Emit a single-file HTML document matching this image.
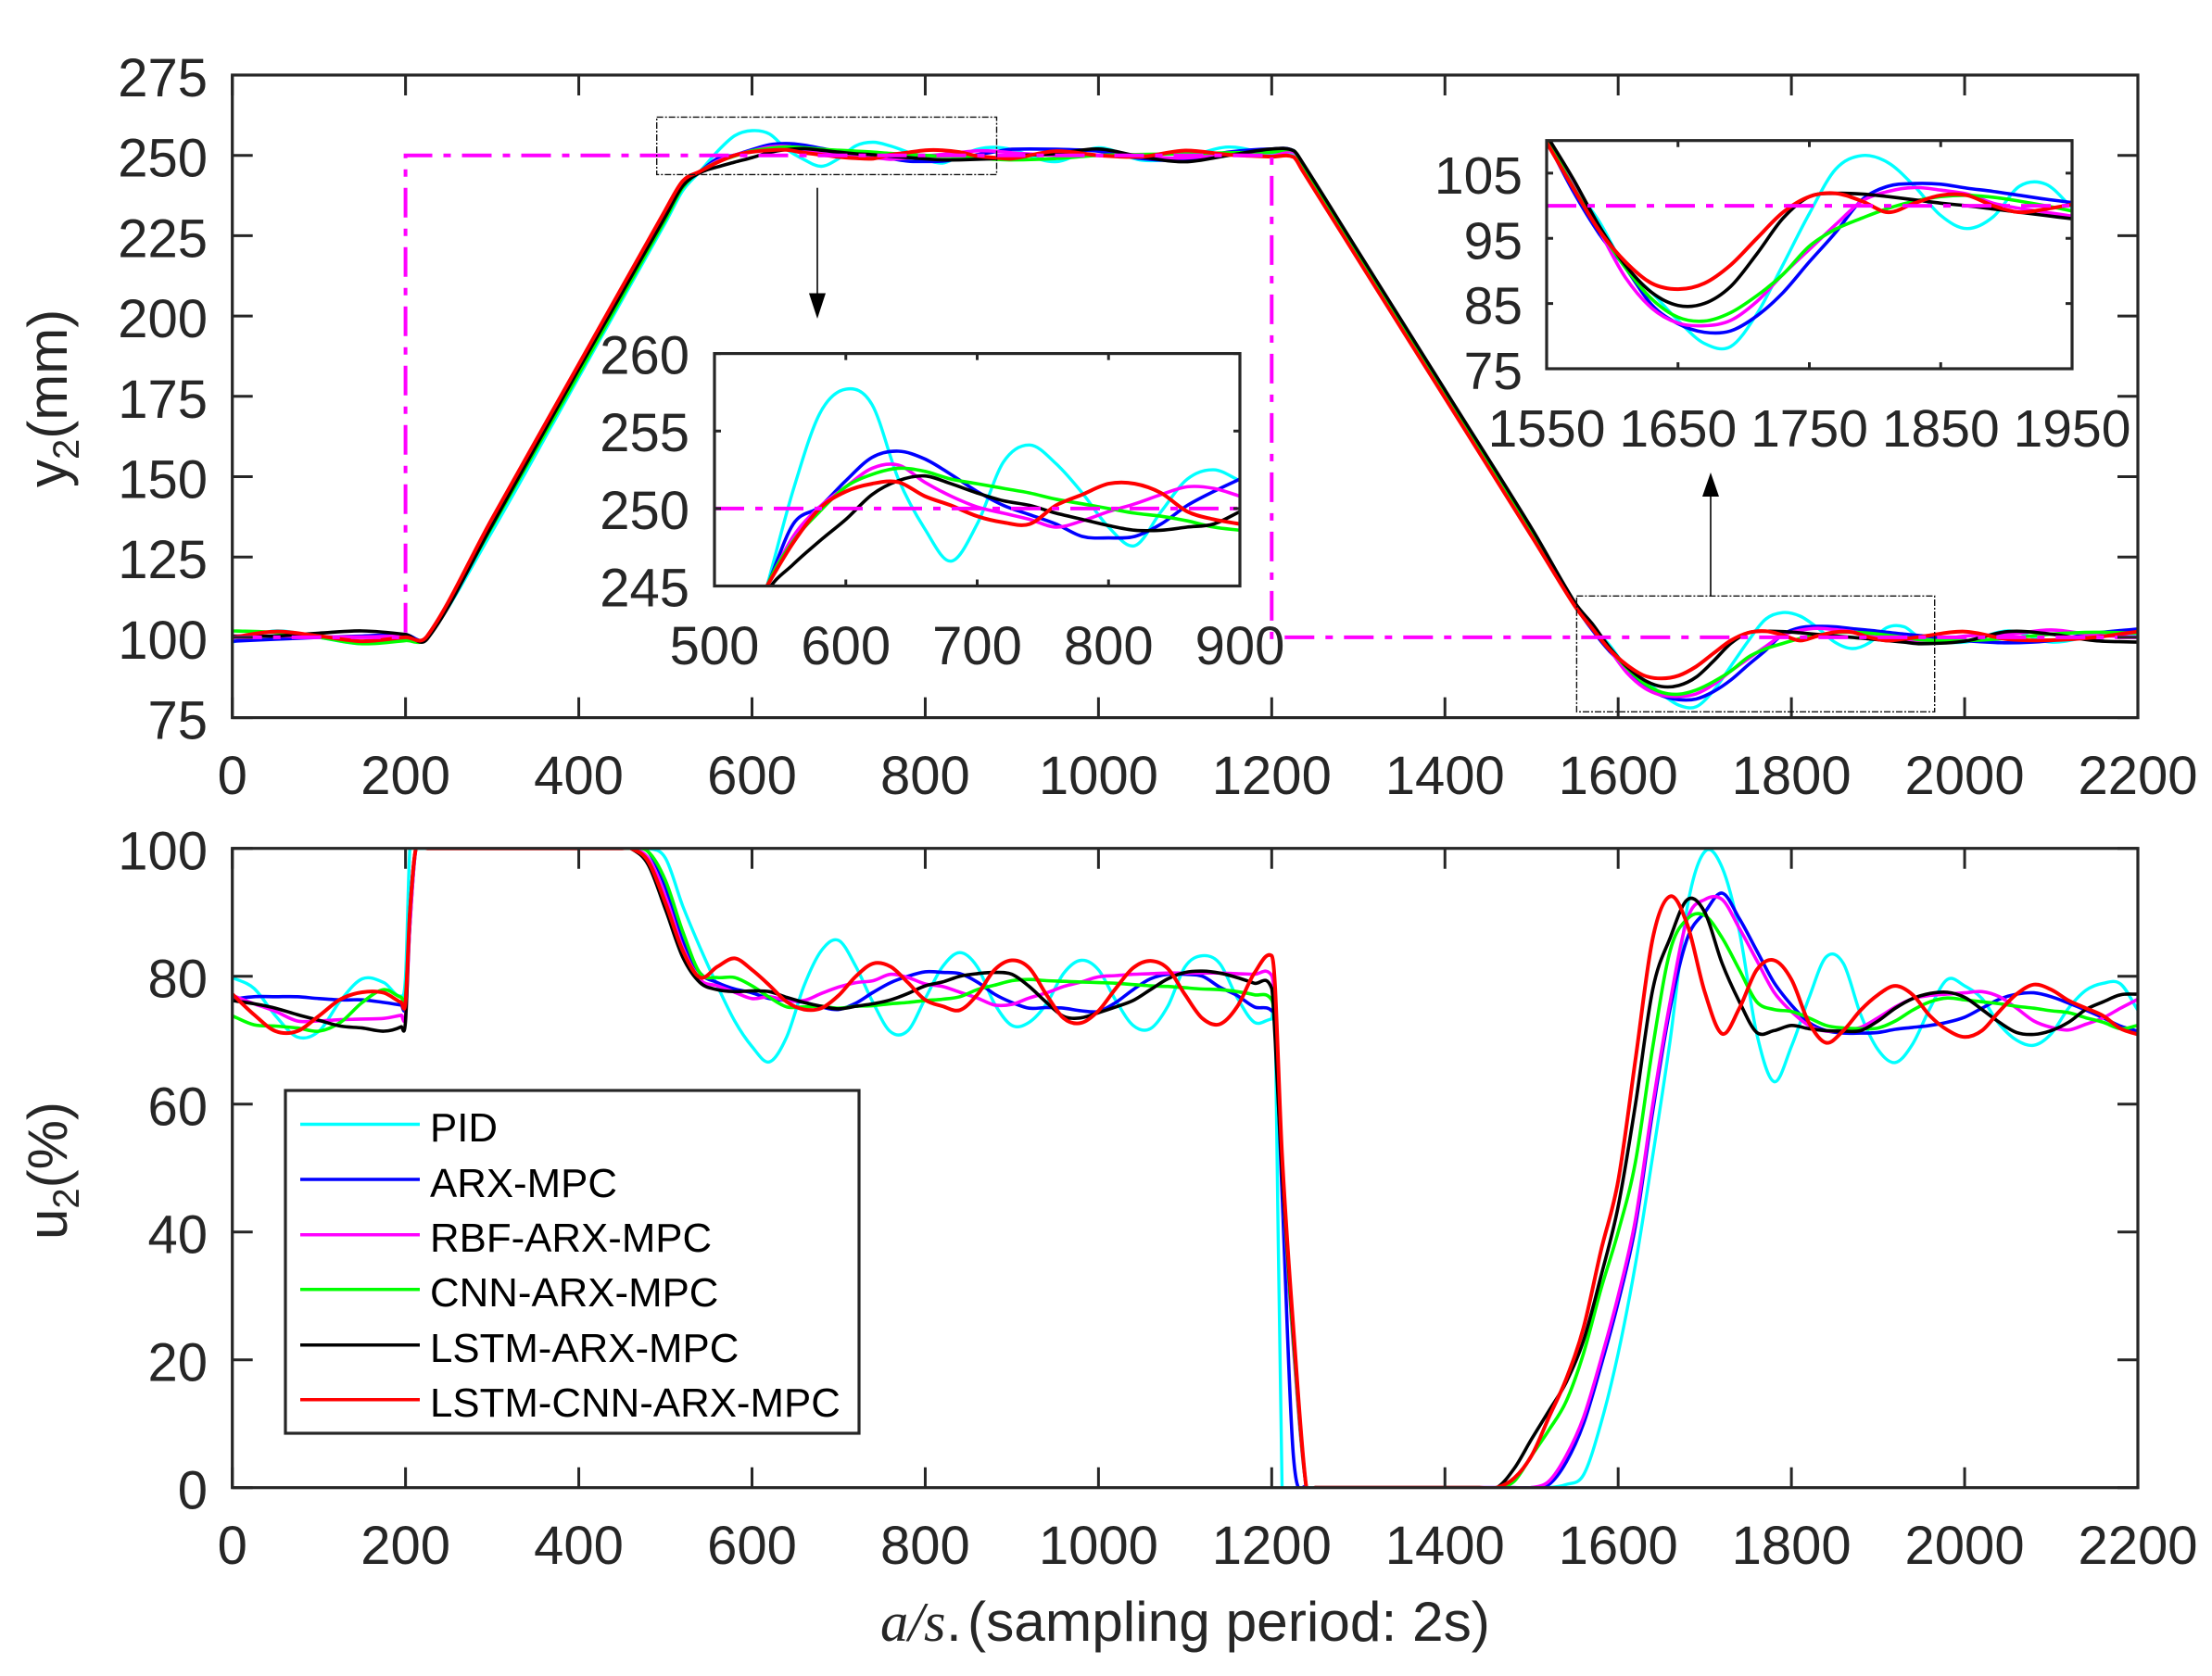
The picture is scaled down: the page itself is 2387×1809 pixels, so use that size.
<!DOCTYPE html>
<html lang="en">
<head>
<meta charset="utf-8">
<title>y2 and u2 control responses</title>
<style>
html,body{margin:0;padding:0;background:#fff;}
body{width:2387px;height:1809px;overflow:hidden;}
svg{display:block;font-family:"Liberation Sans",sans-serif;}
</style>
</head>
<body>
<svg id="chart" xmlns="http://www.w3.org/2000/svg" width="2387" height="1809" viewBox="0 0 2387 1809">
  <rect x="0" y="0" width="2387" height="1809" fill="#fff"/>
  <g id="layer-main"></g>
  <text transform="translate(72,526) rotate(-90)" font-size="60" fill="#262626">y<tspan font-size="40" dy="13">2</tspan><tspan dy="-13">(mm)</tspan></text>
  <text transform="translate(72,1338) rotate(-90)" font-size="60" fill="#262626">u<tspan font-size="40" dy="13">2</tspan><tspan dy="-13">(%)</tspan></text>
  <text y="1771" font-size="60.4" fill="#262626"><tspan x="950" font-family="'Liberation Serif',serif" font-style="italic">a/s</tspan><tspan x="1021">.</tspan><tspan x="1044">(sampling period: 2s)</tspan></text>
  <g>
    <rect x="308" y="1177" width="619" height="370" fill="#fff" stroke="#262626" stroke-width="3.2"/>
    <g><line x1="324" x2="453" y1="1213.5" y2="1213.5" stroke="#00ffff" stroke-width="3.5"/><text x="464" y="1232" font-size="43.8" fill="#000">PID</text></g>
    <g><line x1="324" x2="453" y1="1273" y2="1273" stroke="#0000ff" stroke-width="3.5"/><text x="464" y="1292" font-size="43.8" fill="#000">ARX-MPC</text></g>
    <g><line x1="324" x2="453" y1="1332.7" y2="1332.7" stroke="#ff00ff" stroke-width="3.5"/><text x="464" y="1351" font-size="43.8" fill="#000">RBF-ARX-MPC</text></g>
    <g><line x1="324" x2="453" y1="1391.7" y2="1391.7" stroke="#00ff00" stroke-width="3.5"/><text x="464" y="1410" font-size="43.8" fill="#000">CNN-ARX-MPC</text></g>
    <g><line x1="324" x2="453" y1="1451.7" y2="1451.7" stroke="#000000" stroke-width="3.5"/><text x="464" y="1470" font-size="43.8" fill="#000">LSTM-ARX-MPC</text></g>
    <g><line x1="324" x2="453" y1="1510.7" y2="1510.7" stroke="#ff0000" stroke-width="3.5"/><text x="464" y="1529" font-size="43.8" fill="#000">LSTM-CNN-ARX-MPC</text></g>
  </g>
</svg>
<script>
// ---------- data ----------
const y2Time = [0,50,100,150,200,225,300,400,500,520,
  540,560,580,600,620,640,660,680,700,720,740,760,780,800,820,840,860,880,900,
  950,1000,1050,1100,1150,1200,1225,1235,1300,1400,1500,1550,
  1570,1590,1610,1630,1650,1670,1690,1710,1730,1750,1770,1790,1810,1830,1850,1870,1890,1910,1930,1950,
  2000,2050,2100,2150,2200];
const y2Pid = [98.5,102,100,98,100,100,133,181,229,239,
  245,251.2,256.1,257.7,256.7,251.9,248.7,246.6,249,253,254.1,252.9,251,248.8,247.6,249.8,251.9,252.5,251.8,
  248,252.4,248.5,249.5,252.6,250.3,250.5,246.5,217.5,174.5,131.5,110.5,
  103.3,97.6,90.5,86.7,82.4,78.9,78.4,83.4,91,98.8,105.6,107.7,106.6,103,98.5,96.5,98.3,103,103.3,99.7,
  98.5,102,98.5,100.4,100.7];
const y2Arx = [98.8,99.4,100,100.4,100.9,100,135,183,231.5,241.5,
  245,249,250.1,251.8,253.3,253.7,253.2,252.2,251.1,250.2,249.6,249,248.2,248.1,248.2,249,250.2,251.1,251.9,
  251.9,251.3,249,248.5,251,252,251.5,247.2,218.7,175.6,132.5,110,
  102.3,95.7,90.5,84.8,81.9,80.6,80.8,83.1,86.7,91.4,95.9,100.9,103,103.4,103.3,102.7,102.2,101.6,101,100.5,
  99,98.3,99,101.3,102.6];
const y2Rbf = [100,100.4,100.1,100.1,100.4,100,137,185,232,241.5,
  245,248.2,250.1,251.4,252.6,252.8,251.7,250.8,250.1,249.7,249.3,248.8,249.2,249.8,250.3,250.9,251.4,251.3,250.8,
  250,250,249.5,249.2,250.3,249.8,251,246.8,219,176,133,110,
  103.3,96.2,89,84.3,82,81.6,82.4,85.3,89.5,93.3,97.1,100.7,102.2,102.8,102.4,101.8,100.4,99.6,99,98.4,
  100.4,100.9,102.3,100.7,100];
const y2Cnn = [102,101.5,100,98,99,100,134.5,182,230,240,
  245,247.9,249.8,251.4,252.2,252.6,252.4,251.9,251.6,251.3,251,250.6,250.3,250,249.7,249.5,249.2,248.8,248.6,
  249,250,250.3,250.5,250.8,251,251.5,247.2,219,176,133,110.4,
  103,96.4,90.5,85.7,82.9,82.3,83.6,86.2,89.5,93.8,96.4,98.1,99.6,100.7,101.4,101.6,101.3,100.7,100,99.2,
  99,99.7,101,101.6,101.3];
const y2Lstm = [100.4,100.4,101.3,102,100.9,99.5,135,183.5,231,240.5,
  244.6,246.4,247.9,249.3,250.9,251.8,252.1,251.6,251,250.5,250.2,249.7,249.3,248.9,248.6,248.6,248.8,249,249.8,
  250.5,252,249.5,248,250,252,251.5,248,220,177,134,110.8,
  104.2,96.9,90.9,86.7,84.7,85,87.6,92.6,98.1,101.4,101.9,101.8,101.4,100.9,100.4,100,99.5,99,98.5,98,
  98.8,101.8,101,99,98.5];
const y2LstmCnn = [100,101.8,100.4,98.8,100,100.4,137,185,233,242,
  245,247.8,250,251.1,251.6,251.7,250.8,250.2,249.5,249.1,249,250.2,250.9,251.6,251.6,251,249.8,249.3,249,
  251.3,250,249.6,251.5,250.2,249.6,249.5,245.5,217.5,174.5,131.5,109.7,
  102.8,96.2,91.4,88.1,87.2,88.1,90.9,95,99,101.4,101.9,100.7,99,100.4,101.6,101.6,100,99,99.5,100.2,
  101.8,99.4,99.1,100,101.8];

const setpointTime = [0,200,200,1200,1200,2200];
const setpointValues = [100,100,250,250,100,100];

const uTime = [0,25,50,75,100,125,150,175,195,200,205,212,225,450,
  460,480,500,520,540,560,580,600,620,640,660,680,700,720,740,760,780,800,820,
  840,860,880,900,920,940,960,980,1000,1020,1040,1060,1080,1100,1120,1140,1160,1180,1200,
  1204,1212,1225,1240,1250,1440,
  1460,1480,1500,1520,1540,1560,1580,1600,1620,1640,1660,1680,1700,
  1720,1740,1760,1780,1800,1820,1840,1860,1880,1900,1920,1940,1960,1980,2000,2020,2040,2060,2080,2100,2120,2140,2160,2180,2200];
const uPid = [79.8,78.1,73.8,70.5,71.4,76.2,79.6,79,76.9,80,100,100,100,100,
  100,100,98.5,91,84.5,78.5,73,69,66.6,70.5,78.5,84,85.6,81.5,75.8,71.3,71.5,76.5,81.5,
  83.7,81.5,75.7,72.3,72.8,75.7,80.5,82.5,81,76.2,72.3,71.8,75.3,81.5,83.2,82,76.7,72.8,73.3,
  73,0,0,0,0,0,
  0,0,0,0,0.5,2,10,21,35,52,70,91,99.5,
  97,87,71,63.5,69,76.5,83,82,74,68.5,66.5,69.4,75,79.5,78.5,76.5,72.5,70,69.2,71,75,77.8,78.9,78.8,74.7];
const uArx = [76.4,76.8,76.8,76.8,76.5,76.3,76.3,75.9,75.5,75.5,88,100,100,100,
  100,99.5,94,85.5,80.5,79,78,77.4,76.5,76.2,75.9,75.2,74.8,75.8,77.5,79,80,80.7,80.6,
  80.4,79.1,77.2,75.9,75,75.1,75,74.6,74.5,75.9,77.9,79.6,80.3,80.3,80,78.3,77,75.2,74.6,
  72,46,5,0,0,0,
  0,0,0,0.5,4,10,19,29,41,59,75,86,90,
  93,89,84,79,75.5,72.8,71.5,71.1,71.1,71.2,71.7,72,72.3,72.8,73.6,75,76.4,77.2,77.4,76.8,75.8,74.7,73.5,72.2,71.4];
const uRbf = [77,75.7,74.5,73,73,73.2,73.3,73.4,73.9,74,88,100,100,100,
  100,98.5,92.5,84.5,79.5,78.5,77.5,76.5,76.8,76.2,76.2,77.3,78.3,79,79.3,80.3,79.8,78.8,78.4,
  77.5,76.6,75.5,75.6,76.6,77.4,78.4,79.1,79.9,80.1,80.3,80.4,80.5,80.5,80.5,80.5,80.4,80.3,80.1,
  75,50,22,0,0,0,
  0,0,0,1,5,11,20,30,42,60,76,89,92,
  92,87.5,82.5,77.5,74.5,72.3,71.4,71.6,72,73.5,75.2,76.5,77,77.2,77.4,77.6,76.8,75,73,72,71.6,72.5,73.5,75,76.4];
const uCnn = [73.8,72.4,72.2,71.9,71.4,72.8,75.9,77.9,76.7,77,90,100,100,100,
  100,99.5,95,87,80.5,79.8,79.8,78.5,76.7,75.2,75.2,75.3,75,75.3,75.4,75.7,75.9,76.2,76.4,
  76.8,77.9,78.6,79.3,79.5,79.3,79.2,79.1,79,78.9,78.7,78.5,78.4,78.2,78,77.9,77.6,77.1,76.3,
  72,50,23,0,0,0,
  0,1,5,9,13.5,21,31,40,51,69,84,89,89.5,
  86,81,76,74.8,74.5,73.5,72.3,71.9,71.8,71.9,73,74.7,76,76.6,76.3,76,75.7,75.3,75,74.6,74.3,73.5,72.8,71.8,72.3];
const uLstm = [76.2,75.7,75,74,73.1,72.2,71.9,71.4,72.1,73,90,100,100,100,
  100,97.5,90.5,83,79,77.9,77.6,77.7,77.6,76.7,75.9,75.3,74.9,75.3,75.7,76.3,77.3,78.5,79.1,
  80,80.4,80.6,80.3,78.4,75.9,73.7,73.5,74.3,75.2,76.2,77.9,79.6,80.6,80.8,80.5,79.8,78.9,78.1,
  70,49,24,0,0,0,
  0,3,7.6,12,16.5,23,33,44,60,78,86,92,90,
  82,76,71.2,71.5,72.3,71.8,71.5,71.4,71.5,73,75,76.5,77.3,77.5,76.7,74.8,72.8,71.2,70.9,71.5,72.8,74.8,76,77.1,77.2];
const uLstmCnn = [77.2,74,71.4,71.4,73.8,76.4,77.5,77.4,75.9,76,90,100,100,100,
  100,98,91.5,84,79.8,81.5,82.8,81,78.6,76,74.8,75,77,80,82,81.5,79,76.3,75.3,
  74.7,77.1,81,82.5,81.3,77.1,73.4,72.7,74.6,78.1,81.3,82.4,81.2,77.1,73.4,72.5,75.2,80.5,83.2,
  78,52,25,0,0,0,
  0,1.5,5,11,17,25,37,48,67,86,92.5,88,77.5,
  71,75,81,82.5,79.5,72.8,69.6,71.5,74.7,77.1,78.5,77.1,73.8,71.6,70.5,71.5,74.5,77.2,78.7,77.9,76.2,75,73.8,71.8,70.9];

const seriesNames = ['pid','arx-mpc','rbf-arx-mpc','cnn-arx-mpc','lstm-arx-mpc','lstm-cnn-arx-mpc'];
const y2Series = [y2Pid,y2Arx,y2Rbf,y2Cnn,y2Lstm,y2LstmCnn];
const uSeries = [uPid,uArx,uRbf,uCnn,uLstm,uLstmCnn];

const mainXTicks = [0,200,400,600,800,1000,1200,1400,1600,1800,2000,2200];
const y2Ticks = [75,100,125,150,175,200,225,250,275];
const uTicks = [0,20,40,60,80,100];
const inset1XTicks = [500,600,700,800,900];
const inset1YTicks = [245,250,255,260];
const inset2XTicks = [1550,1650,1750,1850,1950];
const inset2YTicks = [75,85,95,105];

// ---------- styling ----------
const lineColors = ['#00ffff','#0000ff','#ff00ff','#00ff00','#000000','#ff0000'];
const lineWidths = [3.4,3.6,3.6,3.6,3.6,4];
const AXIS_COLOR = '#262626';
const NS = 'http://www.w3.org/2000/svg';
const root = document.getElementById('layer-main');

function svgEl(tag, attrs, parent){
  const el = document.createElementNS(NS, tag);
  for (const k in attrs) el.setAttribute(k, attrs[k]);
  (parent || root).appendChild(el);
  return el;
}

// Smooth curve through the samples inside a time window (Hermite spline with finite difference slopes).
function curvePath(allTimes, allValues, xMin, xMax, sx, sy){
  const times = [], values = [];
  allTimes.forEach((t, i) => {
    if (t >= xMin && t <= xMax){
      times.push(t);
      values.push(allValues[i]);
    }
  });
  const n = times.length;
  const m = [];
  for (let i = 0; i < n; i++){
    const a = Math.max(0, i - 1), b = Math.min(n - 1, i + 1);
    m.push((values[b] - values[a]) / Math.max(1e-6, times[b] - times[a]));
  }
  let d = 'M' + sx(times[0]).toFixed(1) + ' ' + sy(values[0]).toFixed(1);
  for (let i = 0; i < n - 1; i++){
    const h = times[i + 1] - times[i];
    d += 'C' + sx(times[i] + h / 3).toFixed(1) + ' ' + sy(values[i] + m[i] * h / 3).toFixed(1) +
         ' ' + sx(times[i + 1] - h / 3).toFixed(1) + ' ' + sy(values[i + 1] - m[i + 1] * h / 3).toFixed(1) +
         ' ' + sx(times[i + 1]).toFixed(1) + ' ' + sy(values[i + 1]).toFixed(1);
  }
  return d;
}
// Setpoint polyline limited to the segments that fall inside a time window.
function setpointPath(xMin, xMax, sx, sy){
  let d = '';
  for (let i = 0; i < setpointTime.length - 1; i++){
    const a = setpointTime[i], b = setpointTime[i + 1];
    const lo = Math.max(a, xMin), hi = Math.min(b, xMax);
    if (lo > hi) continue;
    if (a === b && (a <= xMin || a >= xMax)) continue;
    d += (d ? 'L' : 'M') + sx(lo).toFixed(1) + ' ' + sy(setpointValues[i]).toFixed(1);
    d += 'L' + sx(hi).toFixed(1) + ' ' + sy(setpointValues[i + 1]).toFixed(1);
  }
  return d;
}

const defs = svgEl('defs', {});

function drawAxes(cfg){
  const g = svgEl('g', {});
  
  
  const sx = v => cfg.left + (v - cfg.xMin) / (cfg.xMax - cfg.xMin) * (cfg.right - cfg.left);
  const sy = v => cfg.bottom - (v - cfg.yMin) / (cfg.yMax - cfg.yMin) * (cfg.bottom - cfg.top);
  const clip = svgEl('clipPath', {id: cfg.name + '-clip'}, defs);
  svgEl('rect', {x: cfg.left, y: cfg.top, width: cfg.right - cfg.left, height: cfg.bottom - cfg.top}, clip);

  const bg = svgEl('rect', {x: cfg.left, y: cfg.top, width: cfg.right - cfg.left, height: cfg.bottom - cfg.top, fill: '#fff'}, g);
  
  

  const plot = svgEl('g', {'clip-path': 'url(#' + cfg.name + '-clip)'}, g);
  
  

  cfg.series.forEach((vals, i) => {
    const p = svgEl('path', {d: curvePath(cfg.time, vals, cfg.xMin, cfg.xMax, sx, sy), fill: 'none', stroke: lineColors[i], 'stroke-width': lineWidths[i], 'stroke-linejoin': 'round'}, plot);
    
    
  });
  if (cfg.setpoint){
    const s = svgEl('path', {d: setpointPath(cfg.xMin, cfg.xMax, sx, sy), fill: 'none', stroke: '#ff00ff', 'stroke-width': 4, 'stroke-dasharray': '32 12 8 12'}, plot);
    
    
  }

  cfg.xTicks.forEach(v => {
    const x = sx(v);
    const t = svgEl('path', {d: 'M' + x + ' ' + cfg.bottom + 'V' + (cfg.bottom - cfg.tickLen) + 'M' + x + ' ' + cfg.top + 'V' + (cfg.top + cfg.tickLen), stroke: AXIS_COLOR, 'stroke-width': 3, fill: 'none'}, g);
    
    
    const l = svgEl('text', {x: x, y: cfg.xLabelY, 'text-anchor': 'middle', 'font-size': cfg.fontSize, fill: AXIS_COLOR}, g);
    
    
    l.textContent = String(v);
  });
  cfg.yTicks.forEach(v => {
    const y = sy(v);
    const t = svgEl('path', {d: 'M' + cfg.left + ' ' + y + 'H' + (cfg.left + cfg.tickLen) + 'M' + cfg.right + ' ' + y + 'H' + (cfg.right - cfg.tickLen), stroke: AXIS_COLOR, 'stroke-width': 3, fill: 'none'}, g);
    
    
    const l = svgEl('text', {x: cfg.yLabelX, y: y + cfg.yLabelDy, 'text-anchor': 'end', 'font-size': cfg.fontSize, fill: AXIS_COLOR}, g);
    
    
    l.textContent = String(v);
  });
  const box = svgEl('rect', {x: cfg.left, y: cfg.top, width: cfg.right - cfg.left, height: cfg.bottom - cfg.top, fill: 'none', stroke: AXIS_COLOR, 'stroke-width': 3.2}, g);
  
  
}

drawAxes({name:'y2-axes', left:250.7, right:2307, top:81, bottom:774.6, xMin:0, xMax:2200, yMin:75, yMax:275,
  time:y2Time, series:y2Series, setpoint:true, xTicks:mainXTicks, yTicks:y2Ticks, tickLen:22,
  fontSize:58, xLabelY:857, yLabelX:224, yLabelDy:23});

drawAxes({name:'u2-axes', left:250.7, right:2307, top:915.7, bottom:1605.7, xMin:0, xMax:2200, yMin:0, yMax:100,
  time:uTime, series:uSeries, setpoint:false, xTicks:mainXTicks, yTicks:uTicks, tickLen:22,
  fontSize:58, xLabelY:1688, yLabelX:224, yLabelDy:23});

// selection boxes and arrows
function zoomMarker(name, x, y, w, h, arrowPath, headPoints){
  const g = svgEl('g', {});
  
  
  svgEl('rect', {x:x, y:y, width:w, height:h, fill:'none', stroke:'#111', 'stroke-width':1.4, 'stroke-dasharray':'7 2 2 2'}, g);
  svgEl('path', {d:arrowPath, stroke:'#000', 'stroke-width':1.6, fill:'none'}, g);
  svgEl('polygon', {points:headPoints, fill:'#000'}, g);
}
zoomMarker('zoom-marker-plateau', 708.7, 126.4, 366.8, 62, 'M882 202.7V318', '873,316.5 891,316.5 882,344');
zoomMarker('zoom-marker-undershoot', 1701.4, 643.3, 386.3, 125, 'M1846 643.3V534', '1837,536 1855,536 1846,510');

drawAxes({name:'inset-plateau', left:771, right:1338, top:381.6, bottom:632.5, xMin:500, xMax:900, yMin:245, yMax:260,
  time:y2Time, series:y2Series, setpoint:true, xTicks:inset1XTicks, yTicks:inset1YTicks, tickLen:7,
  fontSize:58, xLabelY:717, yLabelX:744, yLabelDy:22});

drawAxes({name:'inset-undershoot', left:1669, right:2236, top:151.7, bottom:398, xMin:1550, xMax:1950, yMin:75, yMax:110,
  time:y2Time, series:y2Series, setpoint:true, xTicks:inset2XTicks, yTicks:inset2YTicks, tickLen:7,
  fontSize:57, xLabelY:482, yLabelX:1643, yLabelDy:22});
</script>
</body>
</html>
